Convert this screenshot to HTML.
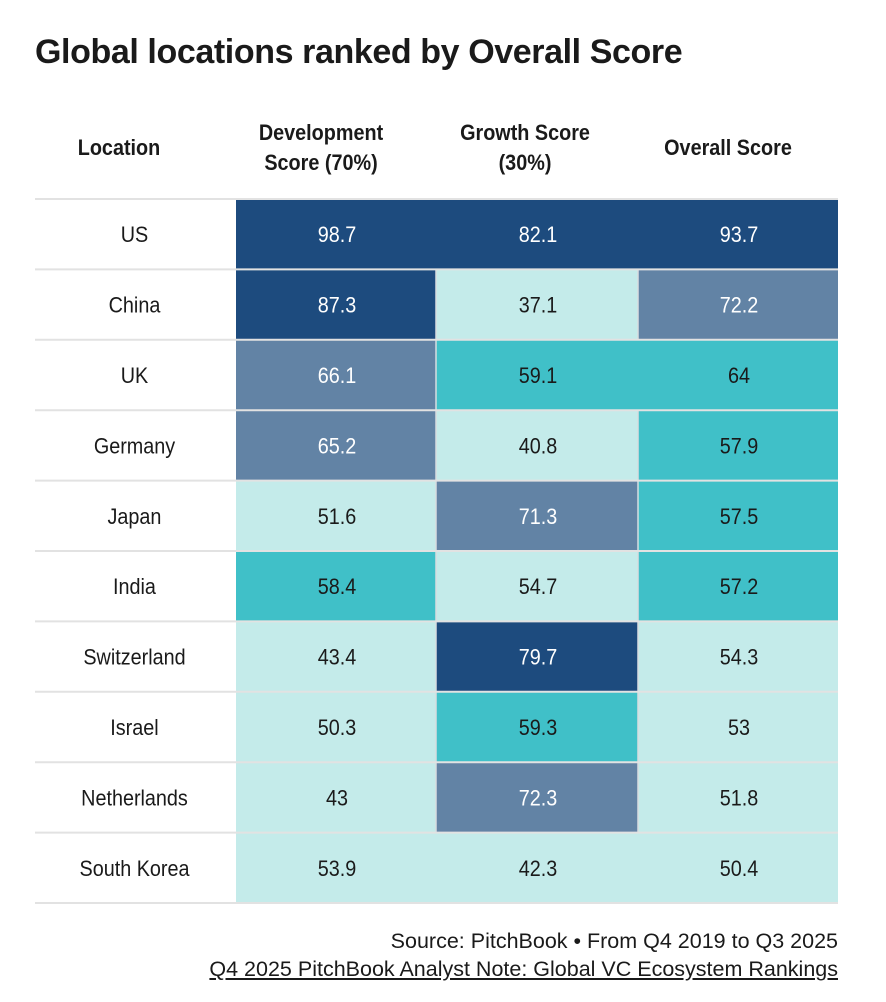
<!DOCTYPE html>
<html><head><meta charset="utf-8"><style>
body{margin:0;background:#fff;width:886px;height:1002px;overflow:hidden;font-family:"Liberation Sans Narrow","Liberation Sans",sans-serif;color:#1a1a1a}
#title{position:absolute;left:35px;top:33px;font:bold 34px "Liberation Sans",sans-serif;letter-spacing:-0.4px;margin:0;white-space:nowrap}
.h{position:absolute;top:108px;height:80px;display:flex;align-items:center;justify-content:center;text-align:center;font-weight:bold;font-size:22px;line-height:30px;transform:scaleX(0.9);white-space:nowrap}
.src{position:absolute;right:48px;font-size:21.5px;transform-origin:right;white-space:nowrap}
</style></head><body>
<h1 id="title">Global locations ranked by Overall Score</h1>
<div class="h" style="left:19px;width:200px">Location</div>
<div class="h" style="left:221px;width:200px">Development<br>Score (70%)</div>
<div class="h" style="left:424px;width:202px">Growth Score<br>(30%)</div>
<div class="h" style="left:628px;width:200px">Overall Score</div>
<svg id="tbl" width="886" height="1002" style="position:absolute;left:0;top:0"></svg>
<div class="src" style="top:929px">Source: PitchBook • From Q4 2019 to Q3 2025</div>
<div class="src" style="top:957px;text-decoration:underline">Q4 2025 PitchBook Analyst Note: Global VC Ecosystem Rankings</div>
<script>
const locations=["US","China","UK","Germany","Japan","India","Switzerland","Israel","Netherlands","South Korea"];
const devScores=[98.7,87.3,66.1,65.2,51.6,58.4,43.4,50.3,43,53.9];
const growthScores=[82.1,37.1,59.1,40.8,71.3,54.7,79.7,59.3,72.3,42.3];
const overallScores=[93.7,72.2,64,57.9,57.5,57.2,54.3,53,51.8,50.4];
const NS="http://www.w3.org/2000/svg";
const svg=document.getElementById('tbl');
const top0=199,rowH=70.4,colX=[35,236,436,638,838];
const sx=0.9;
function color(v){return v>=75?"#1d4b7e":v>=65?"#6283a5":v>=55?"#40c0c8":"#c4ebea";}
function txtColor(v){return v>=65?"#fff":"#1a1a1a";}
function mk(tag,attrs){const e=document.createElementNS(NS,tag);for(const k in attrs)e.setAttribute(k,attrs[k]);svg.appendChild(e);return e;}
const cols=[devScores,growthScores,overallScores];
const colNames=['development','growth','overall'];
for(let i=0;i<locations.length;i++){
  const y=top0+i*rowH;
  for(let c=0;c<3;c++){
    const v=cols[c][i];
    const r=mk('rect',{x:colX[c+1],y:y,width:colX[c+2]-colX[c+1],height:rowH,fill:color(v)});
    
    
    if(c>0 && color(cols[c-1][i])!==color(v)){
      const sep=mk('line',{x1:colX[c+1],x2:colX[c+1],y1:y,y2:y+rowH,stroke:'#d8dde0','stroke-width':1.5});
      
      
    }
    const cx=(colX[c+1]+colX[c+2])/2+1;
    const t=mk('text',{x:cx,y:y+rowH/2+8,'text-anchor':'middle','font-size':22,fill:txtColor(v),'font-family':'"Liberation Sans Narrow","Liberation Sans",sans-serif',transform:`translate(${cx*(1-sx)},0) scale(${sx},1)`});
    t.textContent=String(v);
    
    
  }
  const lx=(colX[0]+colX[1])/2-1;
  const lt=mk('text',{x:lx,y:y+rowH/2+8,'text-anchor':'middle','font-size':22,fill:'#1a1a1a','font-family':'"Liberation Sans Narrow","Liberation Sans",sans-serif',transform:`translate(${lx*(1-sx)},0) scale(${sx},1)`});
  lt.textContent=locations[i];
  
  
}
for(let i=0;i<=locations.length;i++){
  const y=top0+i*rowH;
  const ln=mk('line',{x1:35,x2:838,y1:y,y2:y,stroke:'#e2e2e2','stroke-width':2});
  
  
}
</script>
</body></html>
